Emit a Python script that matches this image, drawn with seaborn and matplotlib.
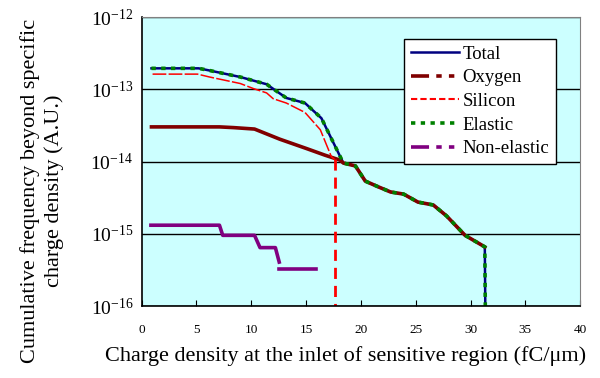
import numpy as np
import seaborn as sns
import matplotlib.pyplot as plt

# values (y as log10 of frequency)
total_x = [0.9, 5.2, 6.2, 9.0, 11.4, 13.2, 14.9, 16.4, 18.4, 19.5, 20.4, 21.6, 22.7,
           23.9, 25.2, 26.6, 27.8, 29.5, 31.3, 31.4]
total_log = [-12.71, -12.71, -12.74, -12.83, -12.93, -13.12, -13.19, -13.40, -14.02, -14.06,
             -14.27, -14.35, -14.42, -14.45, -14.56, -14.60, -14.75, -15.02, -15.18, -17.0]

oxygen_x = [0.9, 7.1, 8.4, 10.3, 12.6, 15.05, 16.7, 18.1, 18.4, 19.5, 20.4, 21.6, 22.7,
            23.9, 25.2, 26.6, 27.8, 29.5, 31.3]
oxygen_log = [-13.52, -13.52, -13.53, -13.55, -13.69, -13.82, -13.91, -13.98, -14.02, -14.06,
              -14.27, -14.35, -14.42, -14.45, -14.56, -14.60, -14.75, -15.02, -15.18]

silicon_x = [1.0, 5.1, 6.2, 9.0, 10.2, 11.4, 12.0, 13.2, 14.9, 16.3, 17.3, 17.6]
silicon_log = [-12.79, -12.79, -12.83, -12.92, -12.99, -13.05, -13.13, -13.19, -13.32,
               -13.56, -13.93, -13.97]
silicon_cut_x = [17.6, 17.6]
silicon_cut_log = [-13.97, -17.0]

elastic_x = total_x
elastic_log = total_log

nonel_x = [0.85, 7.1, 7.4, 10.3, 10.8, 12.2, 12.55]
nonel_log = [-14.88, -14.88, -15.02, -15.02, -15.19, -15.19, -15.39]
nonel_tail_x = [12.55, 15.9]
nonel_tail_log = [-15.49, -15.49]

plt.rcParams['font.family'] = ['Liberation Serif', 'DejaVu Serif']
plt.rcParams['mathtext.fontset'] = 'stix'

fig = plt.figure(figsize=(6, 3.78), dpi=100)
ax = fig.add_axes([0.236, 0.19, 0.731, 0.765])
ax.set_facecolor('#CCFFFF')

def draw(xs, logs, **kw):
    sns.lineplot(x=xs, y=10.0 ** np.array(logs), ax=ax, sort=False, estimator=None, **kw)

dashdotdot = (0, (5, 2, 1.5, 2, 1.5, 2))

draw(total_x, total_log, color='#000080', lw=1.8, label='Total')
draw(oxygen_x, oxygen_log, color='#800000', lw=2.6, label='Oxygen')
draw(silicon_x, silicon_log, color='#FF0000', lw=1.1, linestyle=(0, (9, 1.5)), label='Silicon')
draw(silicon_cut_x, silicon_cut_log, color='#FF0000', lw=2.0, linestyle=(0, (4, 2.5)),
     label='_nolegend_')
draw(elastic_x, elastic_log, color='#008000', lw=2.6, linestyle=(0, (1.2, 1.5)), label='Elastic')
draw(nonel_x, nonel_log, color='#800080', lw=2.6, label='Non-elastic')
draw(nonel_tail_x, nonel_tail_log, color='#800080', lw=2.6, label='_nolegend_')

ax.set_yscale('log')
ax.set_ylim(1e-16, 1e-12)
ax.set_xlim(0, 40)
ax.set_xticks(range(0, 41, 5))
ax.set_yticks([1e-16, 1e-15, 1e-14, 1e-13, 1e-12])
ax.yaxis.set_minor_locator(plt.NullLocator())
ax.grid(axis='y', color='black', lw=1)
ax.grid(axis='x', visible=False)
ax.tick_params(axis='x', direction='in', length=4, labelsize=9.5, pad=13)
ax.tick_params(axis='y', length=0, labelsize=14, pad=6)
for side in ['top', 'right']:
    ax.spines[side].set_color('#808080')
for side in ['left', 'bottom']:
    ax.spines[side].set_color('black')
    ax.spines[side].set_linewidth(1.2)

ax.set_xlabel('Charge density at the inlet of sensitive region (fC/\u03bcm)', fontsize=16)
ax.xaxis.set_label_coords(0.465, -0.138)
ax.set_ylabel('Cumulative frequency beyond specific\ncharge density (A.U.)', fontsize=16,
              linespacing=1.3)
ax.yaxis.set_label_coords(-0.176, 0.40)

leg = ax.legend(loc='upper right', bbox_to_anchor=(0.944, 0.924), borderaxespad=0,
                fontsize=13.5, frameon=True, fancybox=False, edgecolor='black', framealpha=1,
                handlelength=2.55, handletextpad=0.2, labelspacing=0.35, borderpad=0.35)
leg.get_frame().set_linewidth(1)
styles = ['-', dashdotdot, (0, (3, 1.5)), (0, (1.2, 1.5)), dashdotdot]
widths = [1.8, 2.6, 1.5, 2.6, 2.6]
for h, ls, w in zip(leg.get_lines(), styles, widths):
    h.set_linestyle(ls)
    h.set_linewidth(w)

fig.savefig('out.png', dpi=100)
